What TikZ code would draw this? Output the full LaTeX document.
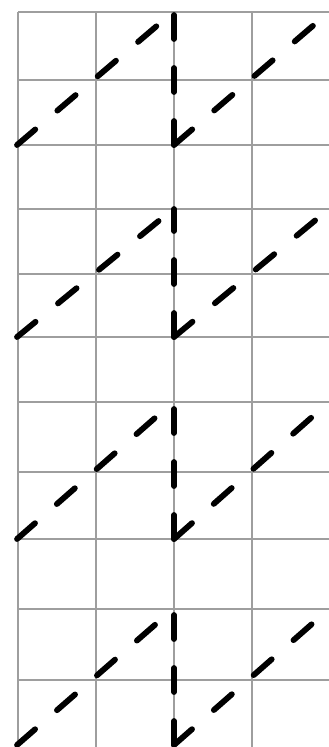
\documentclass[tikz,border=0pt]{standalone}
\begin{document}
\begin{tikzpicture}[x=1pt,y=-1pt,
  gridline/.style={draw=black!38,line width=1.4pt},
  saw/.style={draw=black,line width=5.8pt,line cap=round,dash pattern=on 24pt off 29pt}]
\useasboundingbox (0,0) rectangle (329,747);
\fill[white] (0,0) rectangle (329,747);
\foreach \xx in {18,96,174,252} \draw[gridline] (\xx,12) -- (\xx,747);
\foreach \yy in {12,80,145,209,274,337,402,472,539,609,680} \draw[gridline] (18,\yy) -- (329,\yy);
\foreach \ya/\yb/\i in {12/145/1,209/337/2,402/539/3,609/745/4} {
  \coordinate (L\i) at (17,\yb);
  \coordinate (T\i) at (172,\ya+1);
  \coordinate (V\i) at (174,\yb);
  \coordinate (U\i) at (174,\ya);
  \coordinate (R\i) at (329,\ya);
  \draw[saw] (L\i) -- (T\i);
  \draw[saw] (V\i) -- (U\i);
  \draw[saw] (V\i) -- (R\i);
}
\end{tikzpicture}
\end{document}
